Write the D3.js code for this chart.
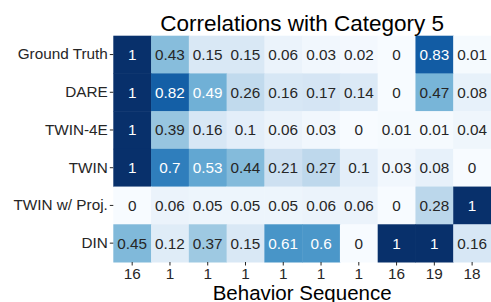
<!DOCTYPE html>
<html>
<head>
<meta charset="utf-8">
<script src="https://cdn.jsdelivr.net/npm/d3@7"></script>
<style>
  body { margin: 0; background: #fff; }
  svg text { font-family: "Liberation Sans", Arial, sans-serif; }
</style>
</head>
<body>
<svg id="heat" width="491" height="302"></svg>
<script>
// rows (models) and columns (behavior sequence categories)
var models = ["Ground Truth", "DARE", "TWIN-4E", "TWIN", "TWIN w/ Proj.", "DIN"];
var behaviors = ["16", "1", "1", "1", "1", "1", "1", "16", "19", "18"];

var groundTruth = [1, 0.43, 0.15, 0.15, 0.06, 0.03, 0.02, 0, 0.83, 0.01];
var dare        = [1, 0.82, 0.49, 0.26, 0.16, 0.17, 0.14, 0, 0.47, 0.08];
var twin4e      = [1, 0.39, 0.16, 0.1, 0.06, 0.03, 0, 0.01, 0.01, 0.04];
var twin        = [1, 0.7, 0.53, 0.44, 0.21, 0.27, 0.1, 0.03, 0.08, 0];
var twinProj    = [0, 0.06, 0.05, 0.05, 0.05, 0.06, 0.06, 0, 0.28, 1];
var din         = [0.45, 0.12, 0.37, 0.15, 0.61, 0.6, 0, 1, 1, 0.16];

var values = [groundTruth, dare, twin4e, twin, twinProj, din];

var svg = d3.select("svg#heat");
var mLeft = 113.3, mTop = 35.7, mRight = 491, mBottom = 262;

var x = d3.scaleBand().domain(d3.range(behaviors.length)).range([mLeft, mRight]);
var y = d3.scaleBand().domain(d3.range(models.length)).range([mTop, mBottom]);
var color = d3.scaleSequential(d3.interpolateBlues).domain([0, 1]);

var cells = [];
values.forEach(function(row, r) {
  row.forEach(function(v, c) {
    cells.push({r: r, c: c, v: v});
  });
});

var g = svg.append("g");
g.selectAll("rect")
  .data(cells)
  .enter()
  .append("rect")
  .attr("x", d => x(d.c))
  .attr("y", d => y(d.r))
  .attr("width", x.bandwidth() + 0.5)
  .attr("height", y.bandwidth() + 0.5)
  .style("fill", d => color(d.v));

g.selectAll("text")
  .data(cells)
  .enter()
  .append("text")
  .attr("x", d => x(d.c) + x.bandwidth() / 2)
  .attr("y", d => y(d.r) + y.bandwidth() / 2)
  .attr("dy", "0.36em")
  .attr("text-anchor", "middle")
  .style("font-size", "15.3px")
  .style("fill", d => d.v > 0.48 ? "#ffffff" : "#262626")
  .text(d => String(d.v));

// axes
var yAxis = svg.append("g")
  .attr("transform", "translate(" + mLeft + ",0)")
  .call(d3.axisLeft(y).tickSize(3.5).tickPadding(2).tickFormat(i => models[i]));
var xAxis = svg.append("g")
  .attr("transform", "translate(0," + mBottom + ")")
  .call(d3.axisBottom(x).tickSize(3.5).tickPadding(3).tickFormat(i => behaviors[i]));

[xAxis, yAxis].forEach(function(a) {
  a.select(".domain").remove();
  a.selectAll("line").attr("stroke", "#262626").attr("stroke-width", 1);
  a.selectAll("text").style("font-size", "15.3px").style("fill", "#262626")
    .style("font-family", "'Liberation Sans', Arial, sans-serif");
});

svg.append("text")
  .attr("x", (mLeft + mRight) / 2)
  .attr("y", 31)
  .attr("text-anchor", "middle")
  .style("font-size", "22.5px")
  .style("fill", "#000")
  .text("Correlations with Category 5");

svg.append("text")
  .attr("x", (mLeft + mRight) / 2)
  .attr("y", 299.5)
  .attr("text-anchor", "middle")
  .style("font-size", "20.5px")
  .style("fill", "#000")
  .text("Behavior Sequence");
</script>
</body>
</html>
